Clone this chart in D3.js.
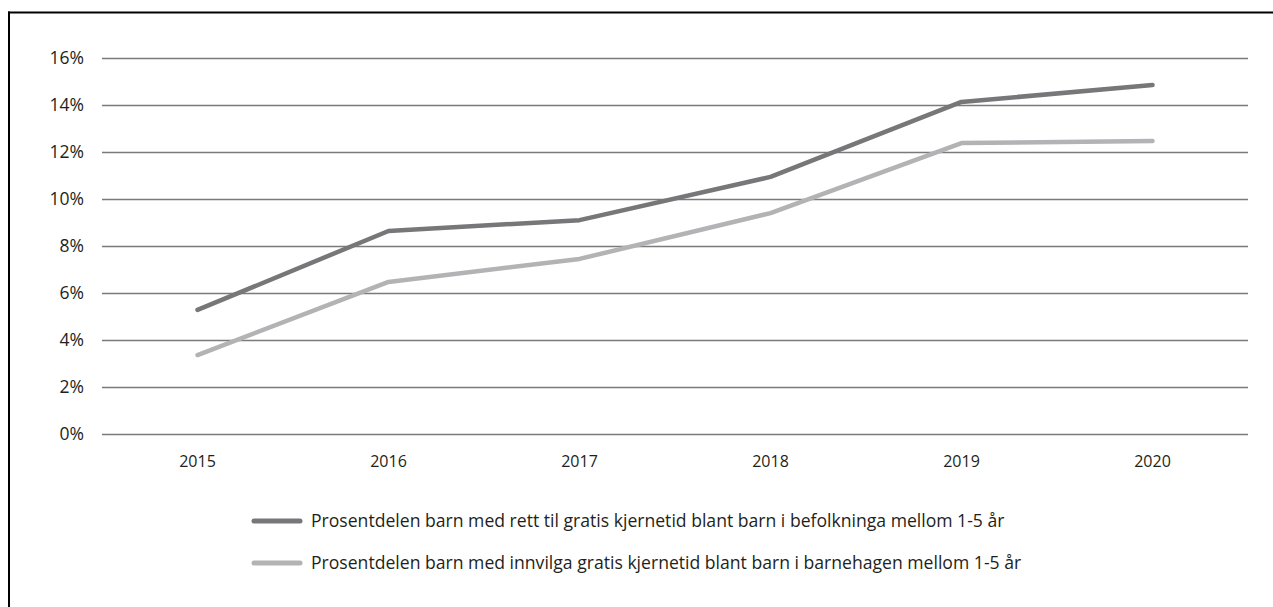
<!DOCTYPE html>
<html>
<head>
<meta charset="utf-8">
<script src="https://cdn.jsdelivr.net/npm/d3@7/dist/d3.min.js"></script>
<style>
  html, body { margin: 0; padding: 0; background: #fff; }
  svg { display: block; }
  text { font-family: "Open Sans", "Noto Sans", sans-serif; fill: #231f20; }
</style>
</head>
<body>
<svg id="chart" width="1273" height="607"></svg>
<script>
const years = ["2015", "2016", "2017", "2018", "2019", "2020"];
const rettValues = [5.28, 8.64, 9.1, 10.94, 14.13, 14.85];
const innvilgaValues = [3.36, 6.47, 7.45, 9.4, 12.38, 12.47];
const yTicks = [0, 2, 4, 6, 8, 10, 12, 14, 16];
const seriesNames = [
  "Prosentdelen barn med rett til gratis kjernetid blant barn i befolkninga mellom 1-5 år",
  "Prosentdelen barn med innvilga gratis kjernetid blant barn i barnehagen mellom 1-5 år"
];
const seriesColors = ["#77777a", "#b3b3b6"];

const svg = d3.select("#chart");

// frame
svg.append("line").attr("x1", 8).attr("x2", 1273).attr("y1", 12.5).attr("y2", 12.5)
  .attr("stroke", "#000").attr("stroke-width", 2);
svg.append("line").attr("x1", 9).attr("x2", 9).attr("y1", 11.5).attr("y2", 607)
  .attr("stroke", "#000").attr("stroke-width", 2);

const x = d3.scaleBand().domain(years).range([102, 1248]);
const y = d3.scaleLinear().domain([0, 16]).range([434, 58]);

// gridlines
const grid = svg.append("g");
grid.selectAll("line").data(yTicks).join("line")
  .attr("x1", 102).attr("x2", 1248)
  .attr("y1", d => Math.round(y(d)) + 0.5).attr("y2", d => Math.round(y(d)) + 0.5)
  .attr("stroke", "#7a7a7a").attr("stroke-width", 1.3);

// y axis labels
const yAxis = d3.axisLeft(y).tickValues(yTicks).tickFormat(d => d + "%").tickSize(0).tickPadding(0);
const yg = svg.append("g").attr("transform", "translate(84,0)").call(yAxis);
yg.select(".domain").remove();
yg.selectAll("text").style("font-size", "17.5px").attr("fill", "#231f20")
  .style("font-family", "'Open Sans', sans-serif");

// x axis labels
const xAxis = d3.axisBottom(x).tickSize(0).tickPadding(0);
const xg = svg.append("g").attr("transform", "translate(0,456)").call(xAxis);
xg.select(".domain").remove();
xg.selectAll("text").style("font-size", "16px").attr("fill", "#231f20")
  .style("font-family", "'Open Sans', sans-serif");

const line = d3.line()
  .x((d, i) => x(years[i]) + x.bandwidth() / 2)
  .y(d => y(d));

[rettValues, innvilgaValues].forEach((vals, k) => {
  svg.append("path").datum(vals)
    .attr("d", line)
    .attr("fill", "none")
    .attr("stroke", seriesColors[k])
    .attr("stroke-width", 4.5)
    .attr("stroke-linecap", "round")
    .attr("stroke-linejoin", "round");
});

// legend
const legend = svg.append("g");
seriesNames.forEach((name, k) => {
  const ly = 521 + k * 42;
  legend.append("line").attr("x1", 254).attr("x2", 300).attr("y1", ly).attr("y2", ly)
    .attr("stroke", seriesColors[k]).attr("stroke-width", 5).attr("stroke-linecap", "round");
  legend.append("text").attr("x", 311).attr("y", ly + 6)
    .style("font-size", "17.6px").text(name);
});
</script>
</body>
</html>
